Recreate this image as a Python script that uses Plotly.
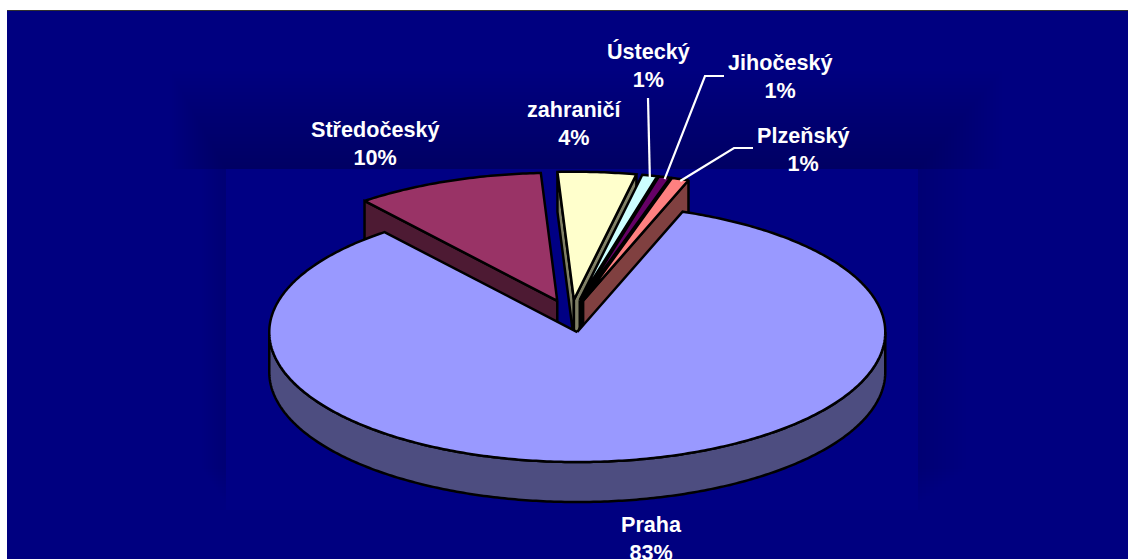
import math
import plotly.graph_objects as go

categories = ["Praha", "Středočeský", "zahraničí", "Ústecký", "Jihočeský", "Plzeňský"]
shares = [83.6, 9.9, 4.1, 0.8, 0.6, 0.9]
top_colors = ["#9999FF", "#993366", "#FFFFCC", "#CCFFFF", "#660066", "#FF8080"]
side_colors = ["#4D4D80", "#4D1A33", "#808066", "#668080", "#330033", "#804040"]
label_texts = ["83%", "10%", "4%", "1%", "1%", "1%"]

CX, CY = 571.0, 316.0
RX, RY = 308.0, 130.0
BACK_SQUASH = 0.985
DEPTH = 40.0
EXPLODE = 0.125
START = 20.0

label_pos = {
    "Praha": (651, 538.5), "Středočeský": (375, 143.5), "zahraničí": (574, 123.5),
    "Ústecký": (648, 65.5), "Jihočeský": (780, 76), "Plzeňský": (803, 149.5),
}
leader_elbows = {
    "Ústecký": [(648, 98)],
    "Jihočeský": [(724, 76), (705, 76)],
    "Plzeňský": [(753, 148), (734, 148)],
}

fig = go.Figure()


def poly(xs, ys, fill):
    fig.add_trace(go.Scatter(x=xs, y=ys, mode="lines", fill="toself", fillcolor=fill,
                             line=dict(color="black", width=2.5, simplify=False),
                             hoverinfo="skip", showlegend=False))


def pt(a, ax, ay, dz=0.0):
    r = math.radians(a)
    c = math.cos(r)
    return ax + RX * math.sin(r), ay - RY * c * (BACK_SQUASH if c > 0 else 1.0) + dz


slices = []
angle = START
total = sum(shares)
for name, share, tc, sc in zip(categories, shares, top_colors, side_colors):
    span = share / total * 360.0
    mid = angle + span / 2
    r = math.radians(mid)
    ax = CX + EXPLODE * RX * math.sin(r)
    ay = CY - EXPLODE * RY * math.cos(r)
    slices.append(dict(name=name, a0=angle, a1=angle + span, mid=mid, ax=ax, ay=ay, tc=tc, sc=sc))
    angle += span


def draw_slice(s):
    a0, a1, ax, ay = s["a0"], s["a1"], s["ax"], s["ay"]
    n = max(6, int((a1 - a0) * 1.5))
    arc = [a0 + (a1 - a0) * i / n for i in range(n + 1)]
    # radial cut faces, only those turned towards the viewer
    for a, sign in ((a0, -1), (a1, 1)):
        if sign * math.sin(math.radians(a)) > 0:
            x1, y1 = pt(a, ax, ay)
            poly([ax, x1, x1, ax, ax], [ay, y1, y1 + DEPTH, ay + DEPTH, ay], s["sc"])
    # outer wall on the front half
    front = [t for t in arc if 90 <= t % 360 <= 270]
    if front:
        front = [max(a0, 90)] + front + [min(a1, 270)]
        upper = [pt(t, ax, ay) for t in front]
        lower = [pt(t, ax, ay, DEPTH) for t in reversed(front)]
        pts = upper + lower + upper[:1]
        poly([p[0] for p in pts], [p[1] for p in pts], s["sc"])
    # top face
    pts = [(ax, ay)] + [pt(t, ax, ay) for t in arc] + [(ax, ay)]
    poly([p[0] for p in pts], [p[1] for p in pts], s["tc"])


praha = slices[0]
for s in slices[1:]:
    draw_slice(s)
draw_slice(praha)

# leader lines from the small slices to their labels
for s in slices:
    if s["name"] in leader_elbows:
        ex, ey = pt(s["mid"], s["ax"], s["ay"])
        pts = leader_elbows[s["name"]] + [(ex, ey + 2)]
        fig.add_trace(go.Scatter(x=[p[0] for p in pts], y=[p[1] for p in pts], mode="lines",
                                 line=dict(color="white", width=2.2), hoverinfo="skip", showlegend=False))

annotations = []
for name, txt in zip(categories, label_texts):
    x, y = label_pos[name]
    annotations.append(dict(x=x, y=y, xref="x", yref="y", text=f"<b>{name}<br>{txt}</b>", showarrow=False,
                            xanchor="center", yanchor="middle", align="center",
                            font=dict(family="Liberation Sans", size=21.6, color="white")))

shapes = [dict(type="rect", x0=7, x1=1128, y0=11, y1=559, fillcolor="#000080", line_width=0, layer="below")]
# soft shading around the chart's plot rectangle
for i in range(1, 29):
    shapes.append(dict(type="rect", x0=226 - 2 * i, x1=918 + 3 * i, y0=169 - 3.5 * i, y1=169,
                       fillcolor="rgba(0,0,0,0.006)", line_width=0, layer="below"))
for i in range(1, 13):
    shapes.append(dict(type="rect", x0=226 - 2 * i, x1=918 + 4 * i, y0=169, y1=505 - 3 * i,
                       fillcolor="rgba(0,0,0,0.005)", line_width=0, layer="below"))
shapes.append(dict(type="rect", x0=226, x1=918, y0=169, y1=510, fillcolor="#000084", line_width=0, layer="below"))
shapes.append(dict(type="line", x0=7, x1=1128, y0=10.5, y1=10.5, line=dict(color="#303030", width=1), layer="below"))

fig.update_layout(
    width=1128, height=559, margin=dict(l=0, r=0, t=0, b=0),
    paper_bgcolor="white", plot_bgcolor="white", showlegend=False,
    xaxis=dict(range=[0, 1128], visible=False, fixedrange=True),
    yaxis=dict(range=[559, 0], visible=False, fixedrange=True),
    annotations=annotations, shapes=shapes,
)

fig.write_html("out.html", config={"displayModeBar": False},
               post_script="document.body.style.margin='0';document.body.style.overflow='hidden';")
